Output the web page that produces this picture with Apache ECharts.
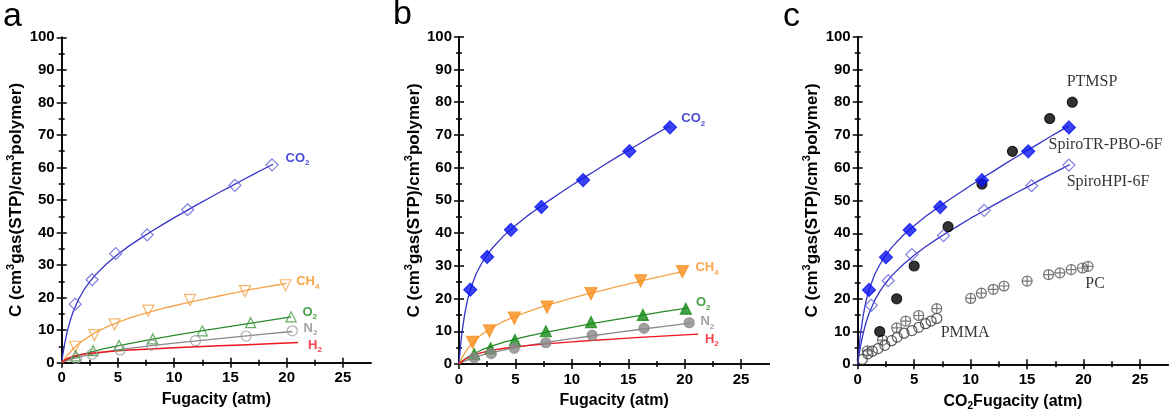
<!DOCTYPE html>
<html><head><meta charset="utf-8">
<script src="https://cdn.jsdelivr.net/npm/echarts@6/dist/echarts.min.js"></script>
<style>html,body{margin:0;padding:0;background:#fff}#c{width:1172px;height:420px}</style>
</head><body><div id="c"></div>
<script>
// ---------- tick values ----------
const xTicks = [0, 5, 10, 15, 20, 25];
const xMinor = [2.5, 7.5, 12.5, 17.5, 22.5];
const yTicks = [0, 10, 20, 30, 40, 50, 60, 70, 80, 90, 100];
const yMinor = [5, 15, 25, 35, 45, 55, 65, 75, 85, 95];

// ---------- panel a : SpiroHPI-6F (open symbols) ----------
const a_CO2 = [[1.2,18],[2.7,25.5],[4.8,33.5],[7.6,39.3],[11.2,47],[15.4,54.5],[18.7,60.8]];
const a_CH4 = [[1.2,4.9],[2.9,8.5],[4.7,11.8],[7.7,16],[11.4,19.3],[16.3,22],[19.9,23.8]];
const a_O2  = [[1.25,2.1],[2.8,3.7],[5.1,5.3],[8.1,7.3],[12.5,9.8],[16.8,12.3],[20.4,14.1]];
const a_N2  = [[1.3,1.3],[2.7,2.6],[5.2,3.9],[8.0,5.4],[11.9,6.8],[16.4,8.2],[20.5,9.8]];
// fitted curves
const fa_CO2 = [[0,0],[0.1,2.5],[0.25,5.6],[0.5,9.7],[0.75,12.9],[1,15.5],[1.5,19.5],[2,22.5],[2.5,24.9],[3,27.0],[4,30.4],[5,33.3],[6,35.9],[7,38.2],[8,40.4],[9,42.5],[10,44.6],[11,46.5],[12,48.5],[13,50.4],[14,52.3],[15,54.1],[16,56.0],[17,57.8],[18,59.6],[18.8,61.0]];
const fa_CH4 = [[0,0],[0.25,1.2],[0.5,2.3],[1,4.2],[1.5,5.8],[2,7.1],[3,9.3],[4,11.0],[5,12.4],[6,13.7],[7,14.8],[8,15.8],[9,16.7],[10,17.5],[11,18.3],[12,19.1],[13,19.8],[14,20.5],[15,21.2],[16,21.9],[17,22.6],[18,23.2],[19,23.8],[20,24.4]];
const fa_O2  = [[0,0],[0.5,0.84],[1,1.54],[2,2.69],[3,3.63],[4,4.45],[5,5.2],[6,5.89],[8,7.18],[10,8.38],[12,9.52],[14,10.63],[16,11.72],[18,12.8],[20.4,14.07]];
const fa_N2  = [[0,0],[0.5,0.67],[1,1.22],[2,2.1],[3,2.79],[4,3.38],[5,3.9],[6,4.37],[8,5.22],[10,6.0],[12,6.73],[14,7.43],[16,8.11],[18,8.78],[20.5,9.59]];
const fa_H2  = [[0,0],[0.25,0.75],[0.5,1.27],[1,1.93],[1.5,2.36],[2,2.66],[3,3.09],[4,3.4],[5,3.65],[6,3.87],[8,4.24],[10,4.57],[12,4.88],[14,5.18],[16,5.47],[18,5.75],[21,6.17]];

// ---------- panel b : SpiroTR-PBO-6F (filled symbols) ----------
const b_CO2 = [[1.0,22.7],[2.5,32.7],[4.6,41],[7.3,48],[11,56.2],[15.1,65],[18.7,72.3]];
const b_CH4 = [[1.2,6.6],[2.7,10.1],[4.9,14],[7.8,17.4],[11.7,21.5],[16.1,25.4],[19.8,28.2]];
const b_O2  = [[1.35,3.0],[2.8,4.8],[4.95,7.3],[7.7,10.0],[11.7,12.8],[16.3,15.0],[20.1,16.9]];
const b_N2  = [[1.35,1.9],[2.85,3.2],[4.9,4.8],[7.7,6.5],[11.8,8.8],[16.4,10.9],[20.4,12.6]];
const fb_CO2 = [[0,0],[0.1,4.3],[0.25,9.3],[0.5,15.2],[0.75,19.5],[1,22.7],[1.5,27.4],[2,30.7],[2.5,33.4],[3,35.6],[4,39.3],[5,42.3],[6,45.1],[7,47.6],[8,50.0],[9,52.3],[10,54.6],[11,56.8],[12,58.9],[13,61.1],[14,63.2],[15,65.3],[16,67.3],[17,69.4],[18,71.4],[18.7,72.8]];
const fb_CH4 = [[0,0],[0.25,1.79],[0.5,3.29],[1,5.67],[1.5,7.5],[2,8.98],[3,11.29],[4,13.09],[5,14.58],[6,15.88],[7,17.04],[8,18.12],[9,19.13],[10,20.09],[11,21.01],[12,21.9],[13,22.76],[14,23.61],[15,24.44],[16,25.25],[17,26.05],[18,26.84],[19,27.62],[19.8,28.25]];
const fb_O2  = [[0,0],[0.5,1.44],[1,2.57],[2,4.29],[3,5.6],[4,6.67],[5,7.59],[6,8.42],[8,9.89],[10,11.22],[12,12.46],[14,13.64],[16,14.79],[18,15.9],[20.2,17.1]];
const fb_N2  = [[0,0],[0.5,0.85],[1,1.55],[2,2.68],[3,3.57],[4,4.33],[5,5.0],[6,5.61],[8,6.73],[10,7.75],[12,8.71],[14,9.64],[16,10.54],[18,11.42],[20.5,12.5]];
const fb_H2  = [[0,0],[0.25,0.77],[0.5,1.38],[1,2.3],[1.5,2.97],[2,3.48],[3,4.25],[4,4.81],[5,5.25],[6,5.62],[8,6.25],[10,6.78],[12,7.25],[14,7.69],[16,8.11],[18,8.51],[21.2,9.13]];

// ---------- panel c : CO2 sorption comparison ----------
const c_PTMSP = [[1.95,10],[3.45,20],[5,30],[8,42],[11,55],[13.7,65],[17,75],[19,80]];
const c_PC    = [[0.85,4.1],[2.2,7.4],[3.45,11.1],[4.25,13.2],[5.4,14.9],[7.0,17.0],[10,20.1],[10.95,21.7],[12,22.9],[12.95,23.9],[15,25.4],[16.9,27.4],[17.9,27.9],[18.9,28.9],[19.9,29.4],[20.4,29.9]];
const c_PMMA  = [[0.4,1.5],[0.9,3.2],[1.3,4.0],[1.8,4.8],[2.4,5.8],[3.0,7.2],[3.5,8.3],[4.1,9.5],[4.8,10.3],[5.4,11.3],[6.0,12.4],[6.5,13.2],[7.0,14.0]];

// ---------- layout / styles ----------
const SANS = 'Liberation Sans, Arial, sans-serif';
const SERIF = 'Liberation Serif, Times New Roman, serif';
const panels = [
  {left: 61.7, top: 37.3, width: 309.3, height: 325.4},
  {left: 459,  top: 36.7, width: 310.3, height: 327.3},
  {left: 857.7,top: 36.7, width: 310.6, height: 327.6}
];
const C = {
  blueLine: '#3535c8', blueOpen: '#5f5fdc', blueFill: '#0a14f0',
  orangeLine: '#f4a348', orange: '#f7901e',
  green: '#1c8a1c', greenLine: '#2a8a2a',
  gray: '#8a8a8a', red: '#f0141e'
};

const grid = [], xAxis = [], yAxis = [], series = [];
const yName = '{t|C (cm}{s|3}{t|gas(STP)/cm}{s|3}{t|polymer)}';
const yNameRich = {
  t: {fontSize: 17, fontWeight: 'bold', fontFamily: SANS, color: '#000', lineHeight: 22},
  s: {fontSize: 11, fontWeight: 'bold', fontFamily: SANS, color: '#000', lineHeight: 12, verticalAlign: 'top'}
};
const xNameRich = {
  t: {fontSize: 16, fontWeight: 'bold', fontFamily: SANS, color: '#000', lineHeight: 20},
  b: {fontSize: 10, fontWeight: 'bold', fontFamily: SANS, color: '#000', lineHeight: 10, verticalAlign: 'bottom'}
};
const xNames = ['{t|Fugacity (atm)}', '{t|Fugacity (atm)}', '{t|CO}{b|2}{t|Fugacity (atm)}'];

panels.forEach((p, i) => {
  grid.push(Object.assign({containLabel: false}, p));
  grid.push(Object.assign({containLabel: false}, p));
  const g = 2 * i, gm = 2 * i + 1;
  const line = {show: true, lineStyle: {color: '#000', width: 1.6}};
  const tickStyle = {color: '#000', width: 1.5};
  xAxis.push({gridIndex: g, type: 'value', min: 0, max: 27.5, position: 'bottom',
    axisLine: line, splitLine: {show: false},
    axisTick: {show: true, inside: true, length: 5, customValues: xTicks, lineStyle: tickStyle},
    axisLabel: {customValues: xTicks, fontSize: 15, fontWeight: 'bold', fontFamily: SANS, color: '#000', margin: 8},
    name: xNames[i], nameLocation: 'middle', nameGap: 27, nameTextStyle: {rich: xNameRich}});
  xAxis.push({gridIndex: g, type: 'value', min: 0, max: 27.5, position: 'top',
    axisLine: line, splitLine: {show: false},
    axisTick: {show: true, inside: true, length: 5, customValues: xTicks, lineStyle: tickStyle},
    axisLabel: {show: false}});
  ['bottom', 'top'].forEach(pos => xAxis.push({gridIndex: gm, type: 'value', min: 0, max: 27.5, position: pos,
    axisLine: {show: false}, splitLine: {show: false}, axisLabel: {show: false},
    axisTick: {show: true, inside: true, length: 3, customValues: xMinor, lineStyle: tickStyle}}));
  yAxis.push({gridIndex: g, type: 'value', min: 0, max: 100, position: 'left',
    axisLine: line, splitLine: {show: false},
    axisTick: {show: true, inside: true, length: 5, customValues: yTicks, lineStyle: tickStyle},
    axisLabel: {customValues: yTicks, fontSize: 15, fontWeight: 'bold', fontFamily: SANS, color: '#000', margin: 7},
    name: yName, nameLocation: 'middle', nameGap: 34, nameRotate: 90, nameTextStyle: {rich: yNameRich}});
  yAxis.push({gridIndex: g, type: 'value', min: 0, max: 100, position: 'right',
    axisLine: line, splitLine: {show: false},
    axisTick: {show: true, inside: true, length: 5, customValues: yTicks, lineStyle: tickStyle},
    axisLabel: {show: false}});
  ['left', 'right'].forEach(pos => yAxis.push({gridIndex: gm, type: 'value', min: 0, max: 100, position: pos,
    axisLine: {show: false}, splitLine: {show: false}, axisLabel: {show: false},
    axisTick: {show: true, inside: true, length: 3, customValues: yMinor, lineStyle: tickStyle}}));
});

const ax = i => ({xAxisIndex: 4 * i, yAxisIndex: 4 * i});
function fit(i, data, color, w) {
  series.push(Object.assign({type: 'line', data, showSymbol: false, symbol: 'none', smooth: false,
    lineStyle: {color, width: w || 1.3, join: 'round'}, z: 2, silent: true}, ax(i)));
}
function pts(i, data, symbol, size, fill, border, rot) {
  series.push(Object.assign({type: 'scatter', data, symbol, symbolSize: size, symbolRotate: rot || 0,
    itemStyle: {color: fill, borderColor: border, borderWidth: 1.2}, z: 3, silent: true}, ax(i)));
}
function gasLabel(i, pos, main, sub, color, font) {
  const serif = font === SERIF;
  const bold = serif ? 'normal' : 'bold';
  const fs = serif ? 16 : 13;
  series.push(Object.assign({type: 'scatter', symbolSize: 0, z: 5, silent: true,
    data: [{value: pos}],
    label: {show: true, position: 'right', distance: 0,
      formatter: sub ? '{m|' + main + '}{s|' + sub + '}' : '{m|' + main + '}',
      rich: {
        m: {fontSize: fs, fontWeight: bold, fontFamily: font, color, lineHeight: 18},
        s: {fontSize: 8, fontWeight: bold, fontFamily: font, color, lineHeight: 9, verticalAlign: 'bottom'}
      }}}, ax(i)));
}
const clear = 'rgba(255,255,255,0)';

// panel a
fit(0, fa_CO2, C.blueLine); fit(0, fa_CH4, C.orangeLine); fit(0, fa_O2, C.greenLine);
fit(0, fa_N2, C.gray); fit(0, fa_H2, C.red, 1.5);
pts(0, a_CO2, 'diamond', 12, clear, C.blueOpen);
pts(0, a_CH4, 'triangle', 11, clear, C.orangeLine, 180);
pts(0, a_O2, 'triangle', 10, clear, '#3a9a3a');
pts(0, a_N2, 'circle', 10, clear, '#9a9a9a');
gasLabel(0, [19.9, 62.9], 'CO', '2', '#1a1ad0', SANS);
gasLabel(0, [20.85, 24.9], 'CH', '4', C.orange, SANS);
gasLabel(0, [21.4, 15.5], 'O', '2', C.green, SANS);
gasLabel(0, [21.5, 10.6], 'N', '2', C.gray, SANS);
gasLabel(0, [21.9, 5.4], 'H', '2', C.red, SANS);

// panel b
fit(1, fb_CO2, C.blueLine); fit(1, fb_CH4, C.orangeLine); fit(1, fb_O2, C.greenLine);
fit(1, fb_N2, C.gray); fit(1, fb_H2, C.red);
pts(1, b_CO2, 'diamond', 13, C.blueFill, C.blueFill);
pts(1, b_CH4, 'triangle', 12, C.orange, C.orange, 180);
pts(1, b_O2, 'triangle', 11, '#178a17', '#178a17');
pts(1, b_N2, 'circle', 10, '#8a8a8a', '#8a8a8a');
gasLabel(1, [19.7, 74.9], 'CO', '2', '#1a1ad0', SANS);
gasLabel(1, [20.95, 29.5], 'CH', '4', C.orange, SANS);
gasLabel(1, [21.0, 18.7], 'O', '2', C.green, SANS);
gasLabel(1, [21.4, 12.9], 'N', '2', C.gray, SANS);
gasLabel(1, [21.8, 7.6], 'H', '2', C.red, SANS);

// panel c
fit(2, fb_CO2, C.blueLine); fit(2, fa_CO2, C.blueLine);
pts(2, c_PMMA, 'circle', 10, clear, '#333333');
pts(2, c_PC, 'path://M0,-10A10,10,0,1,1,0,10A10,10,0,1,1,0,-10ZM-10,0L10,0M0,-10L0,10', 10, clear, '#555555');
pts(2, c_PTMSP, 'circle', 10, '#000', '#000');
pts(2, a_CO2, 'diamond', 12, clear, C.blueOpen);
pts(2, b_CO2, 'diamond', 13, C.blueFill, C.blueFill);
gasLabel(2, [18.5, 86.3], 'PTMSP', '', '#000', SERIF);
gasLabel(2, [16.9, 66.9], 'SpiroTR-PBO-6F', '', '#000', SERIF);
gasLabel(2, [18.5, 55.7], 'SpiroHPI-6F', '', '#000', SERIF);
gasLabel(2, [20.15, 24.7], 'PC', '', '#000', SERIF);
gasLabel(2, [7.35, 9.65], 'PMMA', '', '#000', SERIF);

const letters = [['a', 3, 0], ['b', 393, -2], ['c', 783, 0]];
const graphic = letters.map(([t, x, y]) => ({type: 'text', left: x, top: y,
  style: {text: t, fontSize: 34, fontFamily: SANS, fill: '#000'}}));

const chart = echarts.init(document.getElementById('c'));
chart.setOption({animation: false, backgroundColor: '#fff', grid, xAxis, yAxis, series, graphic});
</script></body></html>
